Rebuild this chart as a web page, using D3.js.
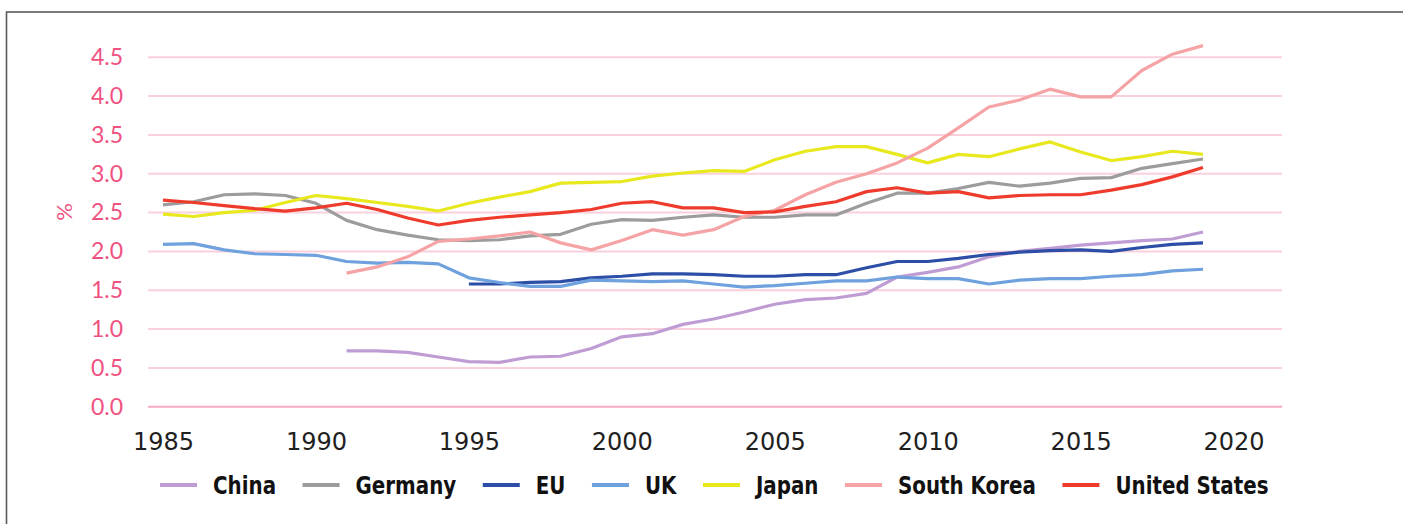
<!DOCTYPE html>
<html>
<head>
<meta charset="utf-8">
<script src="https://cdn.jsdelivr.net/npm/d3@7/dist/d3.min.js"></script>
<style>
  html, body { margin: 0; padding: 0; background: #fff; }
  svg { display: block; }
</style>
</head>
<body>
<svg id="chart" width="1403" height="524"></svg>
<script>
// R&D expenditure as a share of GDP (%), 1985–2019
const years = d3.range(1985, 2020);

const china = [null, null, null, null, null, null,
  0.72, 0.72, 0.70, 0.64, 0.58, 0.57, 0.64, 0.65, 0.75, 0.90,
  0.94, 1.06, 1.13, 1.22, 1.32, 1.38, 1.40, 1.46, 1.67, 1.73,
  1.80, 1.93, 2.00, 2.04, 2.08, 2.11, 2.14, 2.16, 2.25];

const germany = [2.60, 2.64, 2.73, 2.74, 2.72, 2.62, 2.40, 2.28, 2.21, 2.15,
  2.14, 2.15, 2.20, 2.22, 2.35, 2.41, 2.40, 2.44, 2.47, 2.44,
  2.44, 2.47, 2.47, 2.62, 2.75, 2.75, 2.81, 2.89, 2.84, 2.88,
  2.94, 2.95, 3.07, 3.13, 3.19];

const eu = [null, null, null, null, null, null, null, null, null, null,
  1.58, 1.58, 1.60, 1.61, 1.66, 1.68, 1.71, 1.71, 1.70, 1.68,
  1.68, 1.70, 1.70, 1.79, 1.87, 1.87, 1.91, 1.96, 1.99, 2.01,
  2.02, 2.00, 2.05, 2.09, 2.11];

const uk = [2.09, 2.10, 2.02, 1.97, 1.96, 1.95, 1.87, 1.85, 1.86, 1.84,
  1.66, 1.60, 1.55, 1.55, 1.63, 1.62, 1.61, 1.62, 1.58, 1.54,
  1.56, 1.59, 1.62, 1.62, 1.67, 1.65, 1.65, 1.58, 1.63, 1.65,
  1.65, 1.68, 1.70, 1.75, 1.77];

const japan = [2.48, 2.45, 2.50, 2.53, 2.63, 2.72, 2.68, 2.63, 2.58, 2.52,
  2.62, 2.70, 2.77, 2.88, 2.89, 2.90, 2.97, 3.01, 3.04, 3.03,
  3.18, 3.29, 3.35, 3.35, 3.25, 3.14, 3.25, 3.22, 3.32, 3.41,
  3.28, 3.17, 3.22, 3.29, 3.25];

const southKorea = [null, null, null, null, null, null,
  1.72, 1.80, 1.93, 2.13, 2.16, 2.20, 2.25, 2.11, 2.02, 2.14,
  2.28, 2.21, 2.28, 2.45, 2.53, 2.73, 2.89, 3.00, 3.14, 3.33,
  3.59, 3.86, 3.95, 4.09, 3.99, 3.99, 4.33, 4.54, 4.65];

const unitedStates = [2.66, 2.63, 2.59, 2.55, 2.52, 2.56, 2.62, 2.54, 2.43, 2.34,
  2.40, 2.44, 2.47, 2.50, 2.54, 2.62, 2.64, 2.56, 2.56, 2.50,
  2.51, 2.58, 2.64, 2.77, 2.82, 2.75, 2.77, 2.69, 2.72, 2.73,
  2.73, 2.79, 2.86, 2.96, 3.08];

const seriesNames  = ["China", "Germany", "EU", "UK", "Japan", "South Korea", "United States"];
const seriesValues = [china, germany, eu, uk, japan, southKorea, unitedStates];
const seriesColors = ["#bf9dd4", "#9c9c9c", "#2c4ea6", "#6ea1dd", "#e8e81e", "#f5a3a5", "#ef3b2c"];

const yTicks = d3.range(0, 4.51, 0.5);
const xTicks = [1985, 1990, 1995, 2000, 2005, 2010, 2015, 2020];

const svg = d3.select("#chart");

// outer frame (right and bottom edges run past the page)
svg.append("rect")
  .attr("x", 6.5).attr("y", 12)
  .attr("width", 1420).attr("height", 540)
  .attr("fill", "none")
  .attr("stroke", "#5a5a5a")
  .attr("stroke-width", 1.6);

const x = d3.scaleLinear().domain([1985, 2019]).range([163, 1203]);
const y = d3.scaleLinear().domain([0, 4.5]).range([406.7, 57.3]);
const gridLeft = 148, gridRight = 1282;

// horizontal gridlines
svg.append("g")
  .selectAll("line")
  .data(yTicks)
  .join("line")
  .attr("x1", gridLeft).attr("x2", gridRight)
  .attr("y1", d => y(d)).attr("y2", d => y(d))
  .attr("stroke", d => d === 0 ? "#f6a9c1" : "#fbd0dd")
  .attr("stroke-width", 2);

// y axis labels
const yAxis = d3.axisLeft(y)
  .tickValues(yTicks)
  .tickFormat(d3.format(".1f"))
  .tickSize(0)
  .tickPadding(0);
const gy = svg.append("g")
  .attr("transform", "translate(123,0)")
  .call(yAxis);
gy.select(".domain").remove();
gy.selectAll("text")
  .attr("fill", "#ef5281")
  .style("font-family", "Lato, 'Open Sans', sans-serif")
  .style("font-size", "23px");

// "%" axis title
svg.append("text")
  .attr("transform", "translate(72,212) rotate(-90)")
  .attr("text-anchor", "middle")
  .attr("fill", "#ef5281")
  .style("font-family", "Lato, 'Open Sans', sans-serif")
  .style("font-size", "22px")
  .text("%");

// x axis labels
const xAxis = d3.axisBottom(x)
  .tickValues(xTicks)
  .tickFormat(d3.format("d"))
  .tickSize(0)
  .tickPadding(0);
const gx = svg.append("g")
  .attr("transform", "translate(0,432)")
  .call(xAxis);
gx.select(".domain").remove();
gx.selectAll("text")
  .attr("fill", "#1f1f1f")
  .attr("dy", "0.76em")
  .style("font-family", "'DejaVu Sans', Verdana, sans-serif")
  .style("font-size", "24px");

// series lines
const line = d3.line()
  .defined(d => d.v != null)
  .x(d => x(d.year))
  .y(d => y(d.v));

svg.append("g")
  .selectAll("path")
  .data(seriesValues.map((vals, i) => ({
    name: seriesNames[i],
    color: seriesColors[i],
    points: years.map((yr, j) => ({ year: yr, v: vals[j] }))
  })))
  .join("path")
  .attr("d", d => line(d.points))
  .attr("fill", "none")
  .attr("stroke", d => d.color)
  .attr("stroke-width", 3.2)
  .attr("stroke-linejoin", "round")
  .attr("stroke-linecap", "butt");

// legend: swatch, then a tall condensed bold label
const legend = svg.append("g").attr("transform", "translate(160,485)");
const squeeze = 0.92;
let cursor = 0;
seriesNames.forEach((name, i) => {
  const item = legend.append("g").attr("transform", `translate(${cursor},0)`);
  item.append("line")
    .attr("x1", 0).attr("x2", 37)
    .attr("y1", 0).attr("y2", 0)
    .attr("stroke", seriesColors[i])
    .attr("stroke-width", 4);
  const t = item.append("text")
    .attr("transform", `translate(53,9) scale(${squeeze},1)`)
    .attr("fill", "#111")
    .style("font-family", "'DejaVu Sans Condensed', 'DejaVu Sans', sans-serif")
    .style("font-stretch", "condensed")
    .style("font-weight", "bold")
    .style("font-size", "24px")
    .text(name);
  cursor += 53 + t.node().getComputedTextLength() * squeeze + 26.5;
});
</script>
</body>
</html>
